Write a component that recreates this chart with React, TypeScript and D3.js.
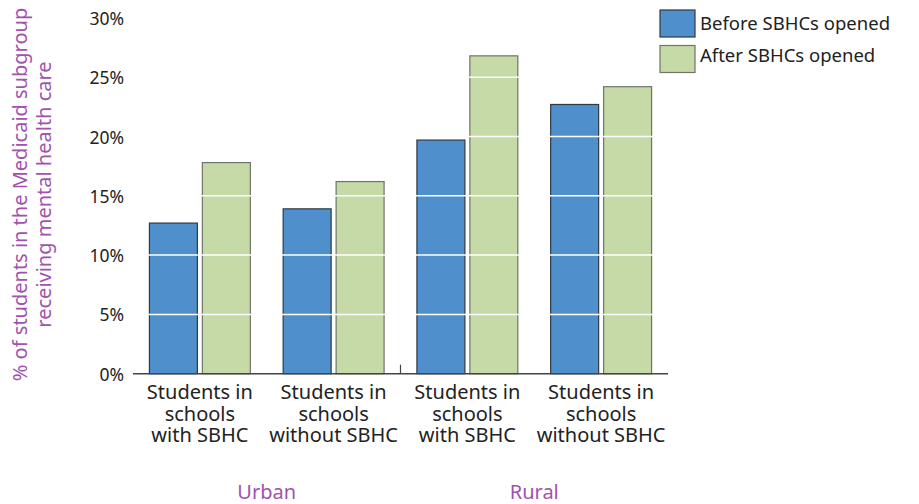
import React from "react";
import * as d3 from "d3";

const categories = ["urbanWith", "urbanWithout", "ruralWith", "ruralWithout"];
const categoryLabels = [
  ["Students in", "schools", "with SBHC"],
  ["Students in", "schools", "without SBHC"],
  ["Students in", "schools", "with SBHC"],
  ["Students in", "schools", "without SBHC"],
];
const series = ["Before SBHCs opened", "After SBHCs opened"];
const beforeValues = [12.7, 13.9, 19.7, 22.7];
const afterValues = [17.8, 16.2, 26.8, 24.2];
const yTicks = [0, 5, 10, 15, 20, 25, 30];
const regions = ["Urban", "Rural"];

const W = 919;
const H = 504;
const FONT = "'Noto Sans', sans-serif";
const PURPLE = "#a152ad";
const TEXT = "#222";
const FILLS = ["#4f8fcc", "#c5daa6"];
const STROKES = ["#2e3a46", "#6f7468"];

export default function App() {
  const x = d3.scaleBand<string>().domain(categories).range([133, 668]).padding(0);
  const xs = d3
    .scaleBand<string>()
    .domain(series)
    .range([0, x.bandwidth()])
    .paddingInner(0.094)
    .paddingOuter(0.31);
  const y = d3.scaleLinear().domain([0, 30]).range([373.7, 17.9]);
  const values = [beforeValues, afterValues];
  const base = y(0);

  return (
    <div style={{ position: "absolute", left: 0, top: 0 }}>
      <svg width={W} height={H} style={{ display: "block", fontFamily: FONT }}>
        <rect width={W} height={H} fill="#fff" />

        {/* bars */}
        {categories.map((c, i) =>
          series.map((s, k) => {
            const v = values[k][i];
            return (
              <rect
                key={c + s}
                x={(x(c) ?? 0) + (xs(s) ?? 0)}
                y={y(v)}
                width={xs.bandwidth()}
                height={base - y(v)}
                fill={FILLS[k]}
                stroke={STROKES[k]}
                strokeWidth={1.2}
              />
            );
          })
        )}

        {/* white gridlines over bars */}
        {yTicks
          .filter((t) => t > 0)
          .map((t) => (
            <line key={t} x1={133} x2={668} y1={y(t)} y2={y(t)} stroke="#fff" strokeWidth={1.5} />
          ))}

        {/* baseline and region separator */}
        <line x1={133} x2={668} y1={base} y2={base} stroke="#444" strokeWidth={1.5} />
        <line
          x1={x(categories[2]) ?? 0}
          x2={x(categories[2]) ?? 0}
          y1={base - 9}
          y2={base}
          stroke="#444"
          strokeWidth={1.2}
        />

        {/* y tick labels */}
        {yTicks.map((t) => (
          <text
            key={t}
            x={124}
            y={y(t)}
            textAnchor="end"
            dominantBaseline="central"
            fontSize={17.5}
            fill={TEXT}
          >
            {`${t}%`}
          </text>
        ))}

        {/* y axis title */}
        <text
          transform={`translate(27,${194.5}) rotate(-90)`}
          textAnchor="middle"
          fontSize={20}
          fill={PURPLE}
        >
          <tspan x={0} dy={0}>% of students in the Medicaid subgroup</tspan>
          <tspan x={0} dy={24}>receiving mental health care</tspan>
        </text>

        {/* category labels, one text per line */}
        {categories.map((c, i) =>
          categoryLabels[i].map((ln, j) => (
            <text
              key={c + j}
              x={(x(c) ?? 0) + x.bandwidth() / 2}
              y={399 + j * 21.5}
              textAnchor="middle"
              fontSize={20}
              fill={TEXT}
            >
              {ln}
            </text>
          ))
        )}

        {/* region labels */}
        {regions.map((r, i) => {
          const cx =
            ((x(categories[i * 2]) ?? 0) + (x(categories[i * 2 + 1]) ?? 0) + x.bandwidth()) / 2;
          return (
            <text key={r} x={cx} y={499} textAnchor="middle" fontSize={20} fill={PURPLE}>
              {r}
            </text>
          );
        })}

        {/* legend */}
        {series.map((s, k) => (
          <g key={s}>
            <rect
              x={660}
              y={10 + k * 35.5}
              width={35}
              height={27}
              fill={FILLS[k]}
              stroke={STROKES[k]}
              strokeWidth={1.2}
            />
            <text x={700} y={29.5 + k * 32.5} fontSize={18.5} fill={TEXT}>
              {s}
            </text>
          </g>
        ))}
      </svg>
    </div>
  );
}
